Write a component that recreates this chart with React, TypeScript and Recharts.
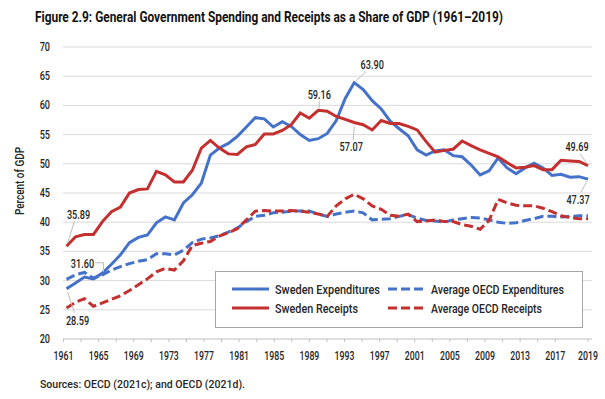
import React from 'react';
import { LineChart, Line, XAxis, YAxis, CartesianGrid } from 'recharts';

const years = [
  1961, 1962, 1963, 1964, 1965, 1966, 1967, 1968, 1969, 1970,
  1971, 1972, 1973, 1974, 1975, 1976, 1977, 1978, 1979, 1980,
  1981, 1982, 1983, 1984, 1985, 1986, 1987, 1988, 1989, 1990,
  1991, 1992, 1993, 1994, 1995, 1996, 1997, 1998, 1999, 2000,
  2001, 2002, 2003, 2004, 2005, 2006, 2007, 2008, 2009, 2010,
  2011, 2012, 2013, 2014, 2015, 2016, 2017, 2018, 2019,
];

const swedenExpenditures = [
  28.59, 29.6, 30.6, 30.3, 31.3, 32.8, 34.4, 36.5, 37.4, 37.8,
  39.9, 40.9, 40.4, 43.3, 44.7, 46.7, 51.5, 52.7, 53.5, 54.7,
  56.3, 57.9, 57.7, 56.3, 57.2, 56.4, 55.0, 54.0, 54.3, 55.2,
  57.4, 61.2, 63.9, 62.7, 60.8, 59.4, 57.3, 56.0, 54.8, 52.4,
  51.5, 52.2, 52.4, 51.4, 51.2, 49.8, 48.1, 48.8, 51.0, 49.3,
  48.3, 49.3, 50.1, 49.3, 48.0, 48.2, 47.7, 47.8, 47.37,
];

const swedenReceipts = [
  35.89, 37.5, 37.9, 37.9, 40.1, 41.8, 42.6, 45.0, 45.6, 45.7,
  48.7, 48.1, 46.9, 46.9, 48.9, 52.7, 54.0, 52.7, 51.7, 51.6,
  52.9, 53.3, 55.1, 55.1, 55.7, 56.7, 58.7, 57.8, 59.16, 59.0,
  58.1, 57.6, 57.07, 56.7, 55.8, 57.4, 56.9, 56.9, 56.4, 55.8,
  53.8, 52.0, 52.3, 52.5, 53.9, 53.1, 52.4, 51.8, 51.2, 50.2,
  49.3, 49.4, 49.7, 49.0, 49.0, 50.6, 50.5, 50.4, 49.69,
];

const oecdExpenditures = [
  30.2, 31.0, 31.4, 30.4, 31.0, 31.8, 32.4, 32.9, 33.3, 33.6,
  34.6, 34.6, 34.4, 35.2, 36.5, 37.1, 37.3, 37.7, 38.3, 39.0,
  40.1, 41.0, 41.2, 41.6, 41.7, 41.9, 41.9, 41.9, 41.4, 41.0,
  41.4, 41.7, 41.9, 41.6, 40.4, 40.5, 40.6, 41.0, 41.3, 40.7,
  40.3, 40.2, 40.0, 40.4, 40.6, 40.8, 40.7, 40.4, 40.0, 39.8,
  39.9, 40.3, 40.6, 41.0, 41.0, 40.9, 41.0, 41.1, 41.1,
];

const oecdReceipts = [
  25.3, 26.3, 26.9, 25.6, 26.2, 26.8, 27.4, 28.3, 29.3, 30.3,
  31.5, 32.1, 31.8, 33.4, 36.0, 36.4, 36.7, 37.6, 38.2, 38.9,
  40.4, 41.9, 42.0, 41.9, 41.9, 42.0, 41.9, 41.7, 41.4, 41.0,
  42.8, 44.0, 44.8, 44.0, 42.8, 42.2, 41.2, 41.0, 41.4, 40.1,
  40.2, 40.4, 40.1, 40.1, 39.6, 39.3, 38.8, 40.3, 43.9, 43.3,
  42.9, 42.8, 42.8, 42.4, 41.8, 41.1, 40.8, 40.6, 40.6,
];

const seriesNames = [
  'Sweden Expenditures',
  'Sweden Receipts',
  'Average OECD Expenditures',
  'Average OECD Receipts',
];

const xTickMarks = [
  1961, 1963, 1965, 1967, 1969, 1971, 1973, 1975, 1977, 1979,
  1981, 1983, 1985, 1987, 1989, 1991, 1993, 1995, 1997, 1999,
  2001, 2003, 2005, 2007, 2009, 2011, 2013, 2015, 2017, 2019,
];
const xTickLabels = [
  1961, 1965, 1969, 1973, 1977, 1981, 1985, 1989, 1993, 1997,
  2001, 2005, 2009, 2013, 2017, 2019,
];
const yTicks = [20, 25, 30, 35, 40, 45, 50, 55, 60, 65, 70];

const titleText =
  'Figure 2.9: General Government Spending and Receipts as a Share of GDP (1961\u20132019)';
const sourceText = 'Sources: OECD (2021c); and OECD (2021d).';
const yAxisTitle = 'Percent of GDP';

const data = years.map((year, i) => ({
  year,
  swExp: swedenExpenditures[i],
  swRec: swedenReceipts[i],
  oeExp: oecdExpenditures[i],
  oeRec: oecdReceipts[i],
}));

const FONT = "Roboto, 'Noto Sans', sans-serif";
const BLUE = '#4472C9';
const RED = '#C3302F';
const TEXT = '#262626';
const LEADER = '#bdbdbd';

// condensed-looking text: horizontally squeezed around its anchor point
const CText = (p: {
  x: number; y: number; size: number; sx: number; anchor?: 'start' | 'middle' | 'end';
  weight?: string | number; fill?: string; children: React.ReactNode;
}) => (
  <text
    transform={`translate(${p.x} ${p.y}) scale(${p.sx} 1)`}
    textAnchor={p.anchor || 'middle'}
    dominantBaseline="central"
    fontFamily={FONT}
    fontSize={p.size}
    fontWeight={p.weight}
    fill={p.fill || TEXT}
  >
    {p.children}
  </text>
);

type Callout = { text: string; dx: number; dy: number; pts: number[][] };

const swExpCallouts: Record<number, Callout> = {
  0: { text: '28.59', dx: 11, dy: 32, pts: [[1, 3], [8, 24]] },
  32: { text: '63.90', dx: 18, dy: -18, pts: [[2, -2], [12, -11]] },
  58: { text: '47.37', dx: -10, dy: 21, pts: [[-1, 2], [-7, 13]] },
};
const swRecCallouts: Record<number, Callout> = {
  0: { text: '35.89', dx: 12, dy: -31, pts: [[1, -3], [8, -25]] },
  28: { text: '59.16', dx: 1, dy: -15, pts: [[1, -2], [1, -9]] },
  32: { text: '57.07', dx: -3, dy: 25, pts: [[0, 3], [-1, 18]] },
  58: { text: '49.69', dx: -11, dy: -19, pts: [[-1, -2], [-8, -12]] },
};
const oeExpCallouts: Record<number, Callout> = {
  4: { text: '31.60', dx: -20, dy: -11, pts: [[-7, -12], [1, -12], [1, -3]] },
};

const makeDot = (callouts: Record<number, Callout>) => (props: any) => {
  const { cx, cy, index } = props;
  const c = callouts[index];
  if (!c || cx == null || cy == null) return <g key={`d-${index}`} />;
  const points = c.pts.map(([px, py]) => `${cx + px},${cy + py}`).join(' ');
  return (
    <g key={`d-${index}`}>
      <polyline points={points} fill="none" stroke={LEADER} strokeWidth={1} />
      <CText x={cx + c.dx} y={cy + c.dy} size={12} sx={0.76} weight={500}>
        {c.text}
      </CText>
    </g>
  );
};

// The reference's category labels run on a slightly tighter pitch than the data
// (about 0.21 px per year), with the final 2019 label sitting at the plot's end.
const XTick = (props: any) => {
  const { x, y, payload } = props;
  const v = payload.value as number;
  const xs = v === 2019 ? x : x - 3 - 0.21 * (v - 1961);
  return (
    <g>
      <line x1={xs} x2={xs} y1={y - 5} y2={y - 2} stroke="#bfbfbf" strokeWidth={1} />
      {xTickLabels.includes(v) ? (
        <CText x={xs} y={y + 12} size={12.5} sx={0.7} weight={500}>
          {v}
        </CText>
      ) : null}
    </g>
  );
};

const YTick = (props: any) => {
  const { x, y, payload } = props;
  return (
    <CText x={x} y={y} size={12} sx={0.76} anchor="end" weight={500}>
      {payload.value}
    </CText>
  );
};

const legendEntries = [
  { name: seriesNames[0], color: BLUE, dash: undefined as string | undefined, x: 16, y: 17, w: 105 },
  { name: seriesNames[1], color: RED, dash: undefined as string | undefined, x: 16, y: 36, w: 83 },
  { name: seriesNames[2], color: BLUE, dash: '9 4', x: 172, y: 17, w: 133 },
  { name: seriesNames[3], color: RED, dash: '9 4', x: 172, y: 36, w: 111 },
];

const LegendBox = () => (
  <div
    style={{
      position: 'absolute',
      left: 215,
      top: 271,
      width: 368,
      height: 57,
      boxSizing: 'border-box',
      border: '1.5px solid #a6a6a6',
      background: '#fff',
    }}
  >
    <svg width={365} height={54} style={{ display: 'block' }}>
      {legendEntries.map((e) => (
        <g key={e.name}>
          <line x1={e.x} x2={e.x + 37} y1={e.y} y2={e.y} stroke={e.color} strokeWidth={3} strokeDasharray={e.dash} />
          <text
            x={e.x + 43}
            y={e.y}
            dominantBaseline="central"
            fontFamily={FONT}
            fontSize={13}
            fontWeight={500}
            fill={TEXT}
            textLength={e.w}
            lengthAdjust="spacingAndGlyphs"
          >
            {e.name}
          </text>
        </g>
      ))}
    </svg>
  </div>
);

export default function App() {
  return (
    <div style={{ position: 'absolute', left: 0, top: 0, width: 605, height: 399, background: '#fff' }}>
      <LineChart
        width={605}
        height={399}
        data={data}
        margin={{ top: 47, right: 13, bottom: 30, left: 0 }}
      >
        <CartesianGrid vertical={false} stroke="#d9d9d9" strokeWidth={1} />
        <XAxis
          dataKey="year"
          type="number"
          domain={[1961, 2019]}
          ticks={xTickMarks}
          interval={0}
          height={30}
          tickSize={3}
          tickMargin={2}
          tickLine={false}
          axisLine={{ stroke: '#d0d0d0' }}
          padding={{ left: 3.5, right: 4 }}
          tick={<XTick />}
        />
        <YAxis
          domain={[20, 70]}
          ticks={yTicks}
          interval={0}
          width={63}
          axisLine={false}
          tickLine={false}
          tickSize={0}
          tickMargin={13}
          tick={<YTick />}
        />
        <Line
          dataKey="swExp"
          name={seriesNames[0]}
          stroke={BLUE}
          strokeWidth={3}
          type="linear"
          dot={makeDot(swExpCallouts)}
          activeDot={false}
          isAnimationActive={false}
        />
        <Line
          dataKey="swRec"
          name={seriesNames[1]}
          stroke={RED}
          strokeWidth={3}
          type="linear"
          dot={makeDot(swRecCallouts)}
          activeDot={false}
          isAnimationActive={false}
        />
        <Line
          dataKey="oeExp"
          name={seriesNames[2]}
          stroke={BLUE}
          strokeWidth={3}
          strokeDasharray="9 4"
          type="linear"
          dot={makeDot(oeExpCallouts)}
          activeDot={false}
          isAnimationActive={false}
        />
        <Line
          dataKey="oeRec"
          name={seriesNames[3]}
          stroke={RED}
          strokeWidth={3}
          strokeDasharray="9 4"
          type="linear"
          dot={false}
          activeDot={false}
          isAnimationActive={false}
        />
      </LineChart>
      <LegendBox />
      <svg
        width={605}
        height={399}
        style={{ position: 'absolute', left: 0, top: 0, pointerEvents: 'none' }}
      >
        <text
          x={35}
          y={22}
          fontFamily={FONT}
          fontWeight="bold"
          fontSize={15}
          fill="#111"
          textLength={468}
          lengthAdjust="spacingAndGlyphs"
        >
          {titleText}
        </text>
        <text
          x={19}
          y={181}
          transform="rotate(-90 19 181)"
          textAnchor="middle"
          dominantBaseline="central"
          fontFamily={FONT}
          fontSize={13}
          fontWeight={500}
          fill={TEXT}
          textLength={68}
          lengthAdjust="spacingAndGlyphs"
        >
          {yAxisTitle}
        </text>
        <text x={40} y={388} fontFamily={FONT} fontSize={11.5} fontWeight={500} fill={TEXT} textLength={205} lengthAdjust="spacingAndGlyphs">
          {sourceText}
        </text>
      </svg>
    </div>
  );
}
